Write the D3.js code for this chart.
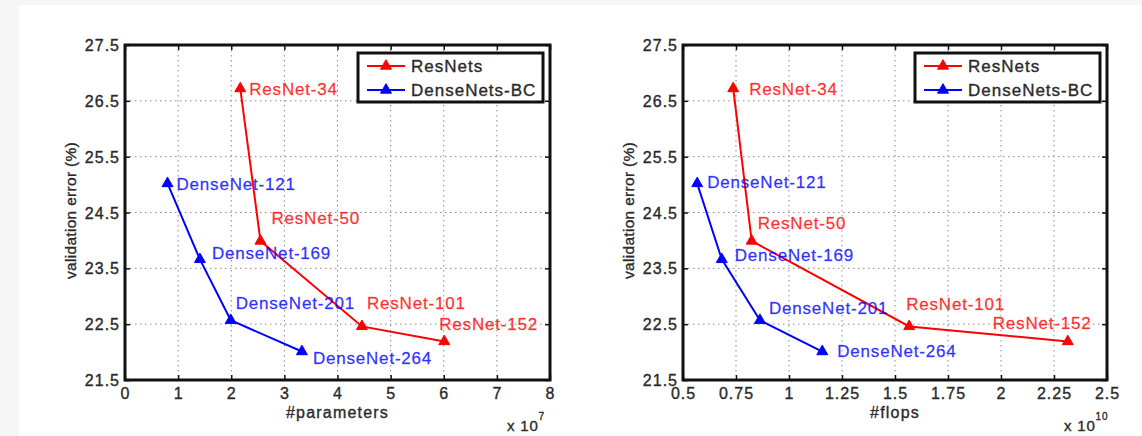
<!DOCTYPE html>
<html>
<head>
<meta charset="utf-8">
<script src="https://cdn.jsdelivr.net/npm/d3@7"></script>
<style>
  body { margin: 0; background: #f6f6f6; }
  svg { display: block; font-family: "Liberation Sans", Arial, sans-serif; }
  svg text { stroke-width: 0.35px; }
</style>
</head>
<body>
<svg width="1142" height="436"></svg>
<script>
// values
const resNames = ['ResNet-34', 'ResNet-50', 'ResNet-101', 'ResNet-152']
const resParams = [2.17, 2.55, 4.46, 6.01]     // x 10^7
const resFlops = [0.737, 0.824, 1.567, 2.315]  // x 10^10
const resError = [26.72, 23.99, 22.46, 22.19]

const denseNames = ['DenseNet-121', 'DenseNet-169', 'DenseNet-201', 'DenseNet-264']
const denseParams = [0.80, 1.41, 1.99, 3.33]
const denseFlops = [0.567, 0.683, 0.863, 1.157]
const denseError = [25.02, 23.66, 22.57, 22.01]

const yTicks = [21.5, 22.5, 23.5, 24.5, 25.5, 26.5, 27.5]
const paramTicks = [0, 1, 2, 3, 4, 5, 6, 7, 8]
const flopTicks = [0.5, 0.75, 1, 1.25, 1.5, 1.75, 2, 2.25, 2.5]

const legendNames = ['ResNets', 'DenseNets-BC']

const red = '#ff0000'
const blue = '#0000ff'
const ink = '#2a2a2a'

const svg = d3.select('svg')

// white page with a thin grey rim on the top and left
svg.append('rect')
  .attr('x', 19).attr('y', 5)
  .attr('width', 1142 - 19).attr('height', 436 - 5)
  .attr('fill', '#fff')

const panels = [
  {
    x0: 125, x1: 550, y0: 45, y1: 380,
    domain: [0, 8], ticks: paramTicks,
    res: resParams, dense: denseParams,
    xLabel: '#parameters', exp: '7',
    // label offsets (text start, vertical centre) relative to each point
    resOff: [[9, 0], [11, -23], [5, -23], [-5, -17]],
    denseOff: [[9, 1], [12, -6], [5, -17], [11, 6]]
  },
  {
    x0: 683, x1: 1107, y0: 45, y1: 380,
    domain: [0.5, 2.5], ticks: flopTicks,
    res: resFlops, dense: denseFlops,
    xLabel: '#flops', exp: '10',
    resOff: [[16, 0], [6, -18], [-3, -22], [-75, -18]],
    denseOff: [[10, -1], [13, -4], [9, -12], [15, -1]]
  }
]

const fmt = d => String(+d.toFixed(2))

const drawPanel = function (p) {
  const x = d3.scaleLinear().domain(p.domain).range([p.x0, p.x1])
  const y = d3.scaleLinear().domain([21.5, 27.5]).range([p.y1, p.y0])
  const g = svg.append('g')

  // dotted grid
  g.selectAll('line.gx')
    .data(p.ticks.slice(1, -1))
    .enter().append('line')
    .attr('x1', d => x(d)).attr('x2', d => x(d))
    .attr('y1', p.y0).attr('y2', p.y1)
    .attr('stroke', '#8a8a8a').attr('stroke-width', 1)
    .attr('stroke-dasharray', '1.5,3.5')
  g.selectAll('line.gy')
    .data(yTicks.slice(1, -1))
    .enter().append('line')
    .attr('y1', d => y(d)).attr('y2', d => y(d))
    .attr('x1', p.x0).attr('x2', p.x1)
    .attr('stroke', '#8a8a8a').attr('stroke-width', 1)
    .attr('stroke-dasharray', '1.5,3.5')

  // axes: labels outside, inward ticks on all four sides
  const bottom = g.append('g')
    .attr('transform', `translate(0,${p.y1})`)
    .call(d3.axisBottom(x).tickValues(p.ticks).tickFormat(fmt).tickSize(-5).tickPadding(8))
  const top = g.append('g')
    .attr('transform', `translate(0,${p.y0})`)
    .call(d3.axisTop(x).tickValues(p.ticks).tickFormat('').tickSize(-5))
  const left = g.append('g')
    .attr('transform', `translate(${p.x0},0)`)
    .call(d3.axisLeft(y).tickValues(yTicks).tickFormat(d => d.toFixed(1)).tickSize(-5).tickPadding(5))
  const right = g.append('g')
    .attr('transform', `translate(${p.x1},0)`)
    .call(d3.axisRight(y).tickValues(yTicks).tickFormat('').tickSize(-5))

  ;[bottom, top, left, right].forEach(a => {
    a.select('.domain').remove()
    a.selectAll('.tick line').attr('stroke', '#111').attr('stroke-width', 1.5)
    a.selectAll('.tick text')
      .attr('fill', ink).attr('stroke', ink)
      .style('font-size', '16px')
      .style('letter-spacing', '1px')
      .style('font-family', '"Liberation Sans", Arial, sans-serif')
  })
  left.selectAll('.tick text').attr('dy', '0.35em')

  // axis titles
  g.append('text')
    .attr('x', (p.x0 + p.x1) / 2).attr('y', 418)
    .attr('text-anchor', 'middle')
    .attr('fill', ink).attr('stroke', ink)
    .style('font-size', '16px').style('letter-spacing', '1.2px')
    .text(p.xLabel)
  g.append('text')
    .attr('transform', `translate(${p.x0 - 49},${(p.y0 + p.y1) / 2 - 2}) rotate(-90)`)
    .attr('text-anchor', 'middle')
    .attr('fill', ink).attr('stroke', ink)
    .style('font-size', '15.5px').style('letter-spacing', '0.3px')
    .text('validation error (%)')
  const ex = g.append('text')
    .attr('x', p.x1 - 43).attr('y', 431)
    .attr('fill', ink).attr('stroke', ink)
    .style('font-size', '15px').style('letter-spacing', '0.8px')
  ex.append('tspan').text('x 10')
  ex.append('tspan').attr('dy', -11).style('font-size', '10px').text(p.exp)

  // series
  const series = [
    { xs: p.res, ys: resError, names: resNames, off: p.resOff, c: red },
    { xs: p.dense, ys: denseError, names: denseNames, off: p.denseOff, c: blue }
  ]
  const line = d3.line().x(d => x(d[0])).y(d => y(d[1]))
  const tri = d3.symbol(d3.symbolTriangle, 52)

  series.forEach(s => {
    const pts = s.xs.map((v, i) => [v, s.ys[i]])
    g.append('path')
      .attr('d', line(pts))
      .attr('fill', 'none').attr('stroke', s.c).attr('stroke-width', 2)
    g.selectAll(null)
      .data(pts).enter().append('path')
      .attr('d', tri)
      .attr('transform', d => `translate(${x(d[0])},${y(d[1])})`)
      .attr('fill', s.c).attr('stroke', s.c)
    g.selectAll(null)
      .data(pts).enter().append('text')
      .attr('x', (d, i) => x(d[0]) + s.off[i][0])
      .attr('y', (d, i) => y(d[1]) + s.off[i][1] + 6)
      .attr('fill', s.c).attr('stroke', s.c)
      .attr('fill-opacity', 0.8).attr('stroke-opacity', 0.6)
      .style('font-size', '17px').style('letter-spacing', '0.8px')
      .text((d, i) => s.names[i])
  })

  // frame
  g.append('rect')
    .attr('x', p.x0).attr('y', p.y0)
    .attr('width', p.x1 - p.x0).attr('height', p.y1 - p.y0)
    .attr('fill', 'none').attr('stroke', '#111').attr('stroke-width', 3)

  // legend
  const lx = p.x1 - 192, ly = 53
  const lg = g.append('g').attr('transform', `translate(${lx},${ly})`)
  lg.append('rect')
    .attr('width', 185).attr('height', 49)
    .attr('fill', '#fff').attr('stroke', '#111').attr('stroke-width', 3)
  ;[red, blue].forEach((c, i) => {
    const yy = 13 + i * 24
    lg.append('line')
      .attr('x1', 9).attr('x2', 47).attr('y1', yy).attr('y2', yy)
      .attr('stroke', c).attr('stroke-width', 2)
    lg.append('path')
      .attr('d', tri)
      .attr('transform', `translate(28,${yy})`)
      .attr('fill', c).attr('stroke', c)
    lg.append('text')
      .attr('x', 53).attr('y', yy + 6)
      .attr('fill', ink).attr('stroke', ink)
      .style('font-size', '17px').style('letter-spacing', '1px')
      .text(legendNames[i])
  })
}

panels.forEach(drawPanel)
</script>
</body>
</html>
